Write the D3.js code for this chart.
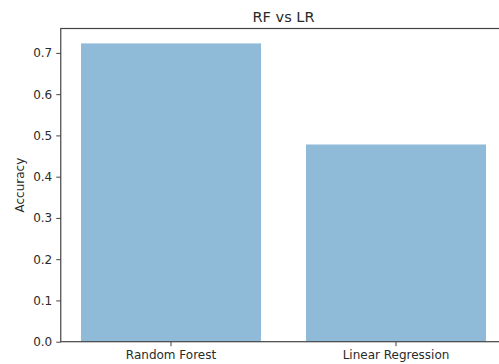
<!DOCTYPE html>
<html>
<head>
<meta charset="utf-8">
<script src="https://cdn.jsdelivr.net/npm/d3@7"></script>
<style>
  html, body { margin: 0; padding: 0; background: #fff; }
  svg { display: block; }
  text { font-family: "DejaVu Sans", sans-serif; fill: #2a2a2a; }
</style>
</head>
<body>
<svg id="chart" width="499" height="364"></svg>
<script>
// Model accuracies
const models = ["Random Forest", "Linear Regression"];
const accuracy = [0.723, 0.478];
const yTicks = [0.0, 0.1, 0.2, 0.3, 0.4, 0.5, 0.6, 0.7];

const svg = d3.select("#chart");
const plot = { left: 60.75, right: 506.25, top: 28.5, bottom: 341.7 };

const x = d3.scaleBand()
  .domain(models)
  .range([plot.left, plot.right])
  .paddingInner(0.2)
  .paddingOuter(0.09);

const y = d3.scaleLinear()
  .domain([0, d3.max(accuracy) * 1.05])
  .range([plot.bottom, plot.top]);

// bars
svg.append("g")
  .selectAll("rect")
  .data(models)
  .join("rect")
  .attr("x", d => x(d))
  .attr("width", x.bandwidth())
  .attr("y", (d, i) => y(accuracy[i]))
  .attr("height", (d, i) => y(0) - y(accuracy[i]))
  .attr("fill", "#1f77b4")
  .attr("fill-opacity", 0.5);

// axes
const yAxis = d3.axisLeft(y)
  .tickValues(yTicks)
  .tickFormat(d3.format(".1f"))
  .tickSize(4.5)
  .tickPadding(4);

const xAxis = d3.axisBottom(x)
  .tickSize(4.5)
  .tickPadding(4);

const gy = svg.append("g")
  .attr("transform", `translate(${plot.left},0)`)
  .call(yAxis);

const gx = svg.append("g")
  .attr("transform", `translate(0,${plot.bottom})`)
  .call(xAxis);

[gx, gy].forEach(g => {
  g.select(".domain").remove();
  g.selectAll(".tick line").attr("stroke", "#444").attr("stroke-width", 1);
  g.selectAll(".tick text")
    .style("font-family", "'DejaVu Sans', sans-serif")
    .style("font-size", "12px")
    .attr("fill", "#2a2a2a");
});

// frame
svg.append("rect")
  .attr("x", plot.left)
  .attr("y", plot.top)
  .attr("width", plot.right - plot.left)
  .attr("height", plot.bottom - plot.top)
  .attr("fill", "none")
  .attr("stroke", "#444")
  .attr("stroke-width", 1.2);

// title
svg.append("text")
  .attr("x", (plot.left + plot.right) / 2)
  .attr("y", plot.top - 7)
  .attr("text-anchor", "middle")
  .style("font-size", "14.5px")
  .text("RF vs LR");

// y label
svg.append("text")
  .attr("transform", `translate(24,${(plot.top + plot.bottom) / 2}) rotate(-90)`)
  .attr("text-anchor", "middle")
  .style("font-size", "12px")
  .text("Accuracy");
</script>
</body>
</html>
